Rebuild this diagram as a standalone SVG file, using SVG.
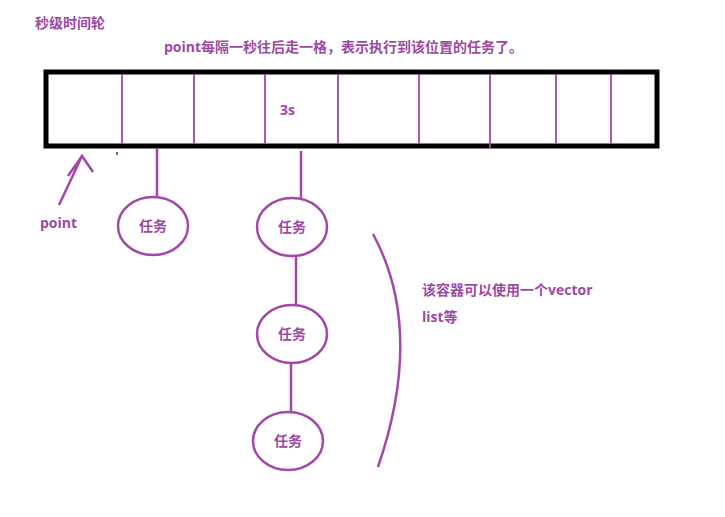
<svg xmlns="http://www.w3.org/2000/svg" width="725" height="517" viewBox="0 0 725 517">
<style>
.p{stroke:#a348a8;stroke-width:2.5;fill:none}
.t{font-family:"Open Sans","Noto Sans CJK SC",sans-serif;font-weight:bold;fill:#9c4aa3;font-size:14px}
.e{stroke:#a348a8;stroke-width:2.5;fill:#fff}
</style>
<rect width="725" height="517" fill="#fff"/>
<text class="t" x="35" y="28" font-size="13">秒级时间轮</text>
<text class="t" x="164" y="52">point每隔一秒往后走一格，表示执行到该位置的任务了。</text>
<g id="wheel">
<rect x="46" y="72" width="611" height="74" fill="none" stroke="#000" stroke-width="5"/>
<g class="p" style="stroke-width:1.8">
<line x1="122" y1="74" x2="122" y2="144"/><line x1="194" y1="74" x2="194" y2="144"/>
<line x1="265" y1="74" x2="265" y2="144"/><line x1="338" y1="74" x2="338" y2="144"/>
<line x1="419" y1="74" x2="419" y2="144"/><line x1="490" y1="74" x2="490" y2="148"/>
<line x1="556" y1="74" x2="556" y2="144"/><line x1="611" y1="74" x2="611" y2="144"/>
</g>
<text class="t" x="280" y="115">3s</text>
</g>
<g id="connectors" class="p">
<line x1="157" y1="148" x2="157" y2="197"/>
<line x1="301" y1="151" x2="301" y2="198"/>
<line x1="296" y1="255" x2="296" y2="305"/>
<line x1="291" y1="364" x2="291" y2="412"/>
<path d="M373 234 Q425 330 378 467"/>
<path d="M59 205 L82 156 M68 176 L82 156 L93 172"/>
</g>
<rect x="116" y="152" width="2" height="3" fill="#a348a8"/>
<text class="t" x="40" y="228">point</text>
<g id="n1"><ellipse class="e" cx="153" cy="226" rx="35" ry="29"/><text class="t" x="153" y="231" text-anchor="middle">任务</text></g>
<g id="n2"><ellipse class="e" cx="292" cy="227" rx="35" ry="29"/><text class="t" x="292" y="232" text-anchor="middle">任务</text></g>
<g id="n3"><ellipse class="e" cx="292" cy="334" rx="35" ry="29"/><text class="t" x="292" y="339" text-anchor="middle">任务</text></g>
<g id="n4"><ellipse class="e" cx="288" cy="441" rx="35" ry="29"/><text class="t" x="288" y="446" text-anchor="middle">任务</text></g>
<text class="t" x="422" y="295">该容器可以使用一个vector</text>
<text class="t" x="422" y="322">list等</text>
</svg>
